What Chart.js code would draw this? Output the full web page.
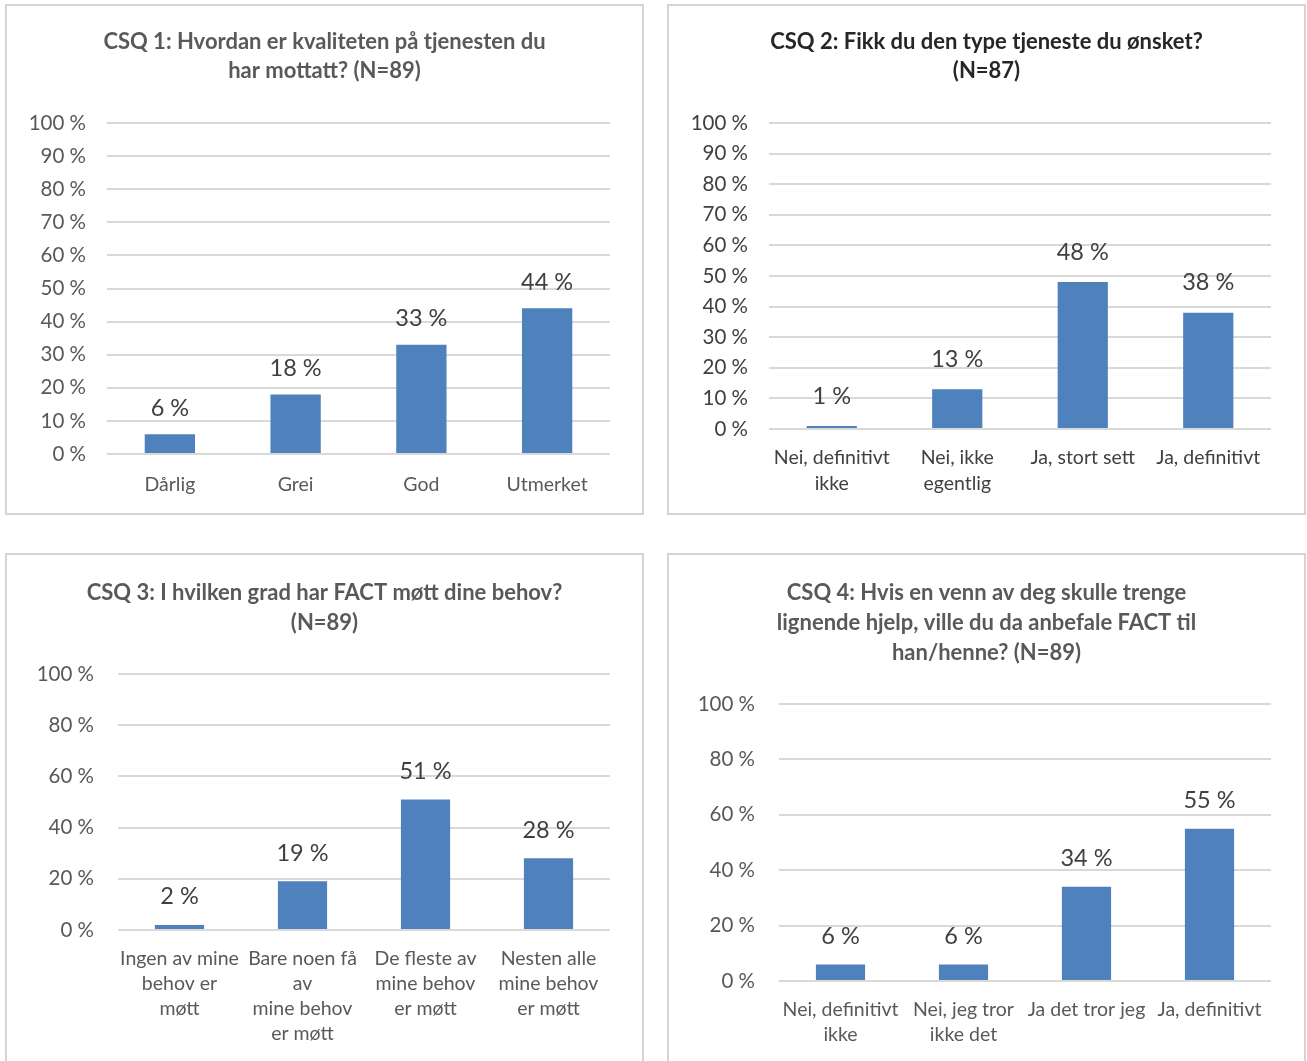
<!DOCTYPE html>
<html>
<head>
<meta charset="utf-8">
<script src="https://cdn.jsdelivr.net/npm/chart.js@4/dist/chart.umd.min.js"></script>
<style>
    html, body { margin: 0; padding: 0; background: #ffffff; }
    body { width: 1307px; height: 1061px; position: relative; overflow: hidden; }
    .panel { position: absolute; box-sizing: border-box; border: 2px solid #d4d4d4; background: #fff; }
    .panel canvas { display: block; }
    #p1 { left: 5px; top: 4px; width: 639px; height: 511px; }
    #p2 { left: 667px; top: 4px; width: 639px; height: 511px; }
    #p3 { left: 5px; top: 553px; width: 639px; height: 512px; }
    #p4 { left: 667px; top: 553px; width: 639px; height: 512px; }
</style>
</head>
<body>
<div class="panel" id="p1"><canvas id="chart-csq1"></canvas></div>
<div class="panel" id="p2"><canvas id="chart-csq2"></canvas></div>
<div class="panel" id="p3"><canvas id="chart-csq3"></canvas></div>
<div class="panel" id="p4"><canvas id="chart-csq4"></canvas></div>
<script>
// —— Data
const csq1Title = ['CSQ 1: Hvordan er kvaliteten på tjenesten du', 'har mottatt? (N=89)'];
const csq1Labels = ['Dårlig', 'Grei', 'God', 'Utmerket'];
const csq1Values = [6, 18, 33, 44];

const csq2Title = ['CSQ 2: Fikk du den type tjeneste du ønsket?', '(N=87)'];
const csq2Labels = [['Nei, definitivt', 'ikke'], ['Nei, ikke', 'egentlig'], 'Ja, stort sett', 'Ja, definitivt'];
const csq2Values = [1, 13, 48, 38];

const csq3Title = ['CSQ 3: I hvilken grad har FACT møtt dine behov?', '(N=89)'];
const csq3Labels = [
    ['Ingen av mine', 'behov er', 'møtt'],
    ['Bare noen få', 'av', 'mine behov', 'er møtt'],
    ['De fleste av', 'mine behov', 'er møtt'],
    ['Nesten alle', 'mine behov', 'er møtt'],
];
const csq3Values = [2, 19, 51, 28];

const csq4Title = ['CSQ 4: Hvis en venn av deg skulle trenge', 'lignende hjelp, ville du da anbefale FACT til', 'han/henne? (N=89)'];
const csq4Labels = [['Nei, definitivt', 'ikke'], ['Nei, jeg tror', 'ikke det'], 'Ja det tror jeg', 'Ja, definitivt'];
const csq4Values = [6, 6, 34, 55];

const FONT = "Lato, 'Open Sans', sans-serif";
const BAR = '#4f81bd';
const GRID = '#d9d9d9';

// valeurs au-dessus des barres
const valueLabels = {
    id: 'valueLabels',
    afterDatasetsDraw(chart, args, opts) {
        const { ctx } = chart;
        const meta = chart.getDatasetMeta(0);
        const data = chart.data.datasets[0].data;
        ctx.save();
        ctx.font = `${opts.size}px ${FONT}`;
        ctx.fillStyle = opts.color;
        ctx.textAlign = 'center';
        ctx.textBaseline = 'middle';
        meta.data.forEach((bar, i) => {
            ctx.fillText(`${data[i]} %`, bar.x, bar.y - opts.gap);
        });
        ctx.restore();
    },
};

function makeChart(id, cfg) {
    const canvas = document.getElementById(id);
    const parent = canvas.parentElement;
    canvas.style.width = parent.clientWidth + 'px';
    canvas.style.height = parent.clientHeight + 'px';
    return new Chart(canvas.getContext('2d'), {
        type: 'bar',
        data: {
            labels: cfg.labels,
            datasets: [
                {
                    data: cfg.values,
                    backgroundColor: BAR,
                    borderWidth: 0,
                    barPercentage: 0.4,
                    categoryPercentage: 1,
                },
            ],
        },
        plugins: [valueLabels],
        options: {
            responsive: false,
            animation: false,
            layout: { padding: 0 },
            plugins: {
                legend: { display: false },
                tooltip: { enabled: false },
                title: {
                    display: true,
                    text: cfg.title,
                    color: cfg.titleColor,
                    font: { family: FONT, size: 22, weight: 'bold', lineHeight: cfg.titleLine / 22 },
                    padding: { top: cfg.titleTop, bottom: cfg.titleBottom },
                },
                valueLabels: { color: '#404040', size: 23.5, gap: cfg.gap },
            },
            scales: {
                x: {
                    grid: { display: false },
                    border: { display: false },
                    ticks: {
                        color: cfg.xColor,
                        font: { family: FONT, size: 19.5, lineHeight: cfg.xLine / 19.5 },
                        padding: cfg.xPad,
                        maxRotation: 0,
                        autoSkip: false,
                    },
                    afterFit: (s) => { s.height = cfg.xHeight; },
                },
                y: {
                    min: 0,
                    max: 100,
                    border: { display: false },
                    grid: { color: GRID, lineWidth: 2, drawTicks: false },
                    ticks: {
                        stepSize: cfg.step,
                        color: cfg.yColor,
                        padding: cfg.yPad,
                        font: { family: FONT, size: 20.5 },
                        callback: (v) => `${v} %`,
                    },
                    afterFit: (s) => { s.width = cfg.yWidth; },
                },
                // marge droite vide
                yRight: {
                    position: 'right',
                    min: 0,
                    max: 100,
                    border: { display: false },
                    grid: { display: false },
                    ticks: { display: false },
                    afterFit: (s) => { s.width = cfg.right; },
                },
            },
        },
    });
}

makeChart('chart-csq1', {
    labels: csq1Labels, values: csq1Values, title: csq1Title,
    titleColor: '#595959', xColor: '#595959', yColor: '#595959',
    titleTop: 21, titleBottom: 38, titleLine: 29, right: 32, yWidth: 100, yPad: 21,
    xHeight: 59, xPad: 10, xLine: 26, step: 10, gap: 26,
});

makeChart('chart-csq2', {
    labels: csq2Labels, values: csq2Values, title: csq2Title,
    titleColor: '#262626', xColor: '#404040', yColor: '#404040',
    titleTop: 21, titleBottom: 38, titleLine: 29, right: 33, yWidth: 100, yPad: 21,
    xHeight: 84, xPad: 8, xLine: 26, step: 10, gap: 30,
});

makeChart('chart-csq3', {
    labels: csq3Labels, values: csq3Values, title: csq3Title,
    titleColor: '#595959', xColor: '#595959', yColor: '#595959',
    titleTop: 23, titleBottom: 36, titleLine: 30, right: 32, yWidth: 111, yPad: 24,
    xHeight: 133, xPad: 8, xLine: 25, step: 20, gap: 28,
});

makeChart('chart-csq4', {
    labels: csq4Labels, values: csq4Values, title: csq4Title,
    titleColor: '#595959', xColor: '#595959', yColor: '#595959',
    titleTop: 23, titleBottom: 36, titleLine: 30, right: 33, yWidth: 110, yPad: 24,
    xHeight: 82, xPad: 8, xLine: 25, step: 20, gap: 28,
});
</script>
</body>
</html>
